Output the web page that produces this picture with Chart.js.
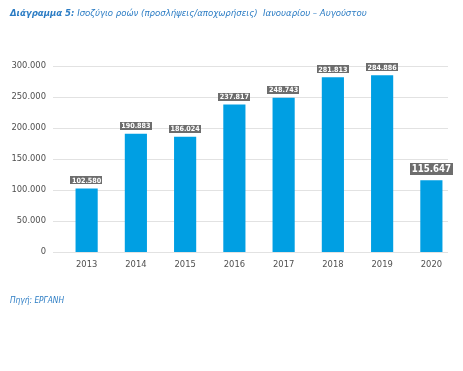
<!DOCTYPE html>
<html><head><meta charset="utf-8">
<script src="https://cdn.jsdelivr.net/npm/chart.js@4/dist/chart.umd.min.js"></script>
<style>
html,body{margin:0;padding:0;background:#fff;width:463px;height:371px;overflow:hidden;}
#wrap{position:absolute;left:0;top:0;width:463px;height:371px;}
.t{position:absolute;font-family:"DejaVu Sans Condensed",sans-serif;font-style:italic;color:#2b7cc4;white-space:nowrap;}
#title{left:10px;top:7px;font-size:9.5px;}
#src{left:10px;top:295px;font-size:8.3px;}
</style></head><body>
<div id="wrap"><canvas id="c" width="463" height="371"></canvas></div>
<div class="t" id="title"><b>Διάγραμμα 5:</b> Ισοζύγιο ροών (προσλήψεις/αποχωρήσεις)&nbsp; Ιανουαρίου – Αυγούστου</div>
<div class="t" id="src">Πηγή: ΕΡΓΑΝΗ</div>
<script>
const years = ["2013","2014","2015","2016","2017","2018","2019","2020"];
const balance = [102580,190883,186024,237817,248743,281813,284886,115647];
const yTicks = [0,50000,100000,150000,200000,250000,300000];

function fmt(v){return String(v).replace(/\B(?=(\d{3})+(?!\d))/g,".");}
const FONT = '"DejaVu Sans Condensed",sans-serif';

const gridPlugin = {
  id:'grid2',
  beforeDatasetsDraw(chart){
    const ctx=chart.ctx, y=chart.scales.y;
    ctx.save();
    ctx.strokeStyle='#e2e2e2'; ctx.lineWidth=1;
    yTicks.forEach(v=>{
      const py=Math.round(y.getPixelForValue(v))+0.5;
      ctx.beginPath(); ctx.moveTo(53,py); ctx.lineTo(448,py); ctx.stroke();
    });
    ctx.restore();
  }
};
const labelPlugin = {
  id:'vlabels',
  afterDatasetsDraw(chart){
    const ctx=chart.ctx, meta=chart.getDatasetMeta(0);
    ctx.save();
    meta.data.forEach((bar,i)=>{
      const big = i===balance.length-1;
      const fs = big?9.6:7.2;
      ctx.font='bold '+fs+'px '+FONT;
      const txt=fmt(balance[i]);
      const w=ctx.measureText(txt).width+ (big?4:3);
      const h= big?12:8;
      const gap= big?5:4;
      const x=bar.x-w/2, yb=bar.y-gap;
      ctx.fillStyle='#6d6d6d';
      ctx.fillRect(Math.round(x),Math.round(yb-h),Math.round(w),h);
      ctx.fillStyle='#fff';
      ctx.textAlign='center'; ctx.textBaseline='middle';
      ctx.fillText(txt,bar.x,yb-h/2+0.5);
    });
    ctx.restore();
  }
};

new Chart(document.getElementById('c'),{
  type:'bar',
  data:{labels:years,datasets:[{data:balance,backgroundColor:'#009fe3',barPercentage:0.45,categoryPercentage:1}]},
  options:{
    responsive:false,animation:false,
    layout:{padding:{top:66,right:7,bottom:0,left:0}},
    plugins:{legend:{display:false},tooltip:{enabled:false}},
    scales:{
      y:{min:0,max:300000,
        afterBuildTicks(s){s.ticks=yTicks.map(v=>({value:v}));},
        afterFit(s){s.width=62;},
        grid:{display:false,drawTicks:false},border:{display:false},
        ticks:{padding:16,color:'#505050',font:{family:FONT,size:9.3},callback:v=>fmt(v)}},
      x:{afterFit(s){s.height=119;},
        grid:{display:false,drawTicks:false},border:{display:false},
        ticks:{padding:7,color:'#505050',font:{family:FONT,size:9.3}}}
    }
  },
  plugins:[gridPlugin,labelPlugin]
});
</script>
</body></html>
